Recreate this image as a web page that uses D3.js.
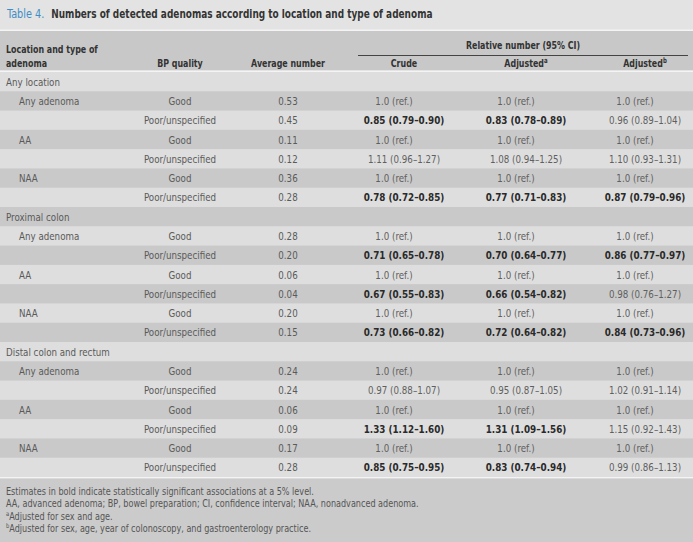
<!DOCTYPE html>
<html><head><meta charset="utf-8">
<script src="https://cdn.jsdelivr.net/npm/d3@7"></script>
<style>
html,body{margin:0;padding:0;background:#e4e4e4;}
svg{display:block;}
text{font-family:"DejaVu Sans Condensed","DejaVu Sans",sans-serif;}
</style></head>
<body>
<svg id="c" width="693" height="542"></svg>
<script>
const titleLabel = "Table 4.";
const titleText = "Numbers of detected adenomas according to location and type of adenoma";
const headerSpan = "Relative number (95% CI)";
const headerCols = [
  {key:"loc", lines:["Location and type of","adenoma"]},
  {key:"bp", lines:["BP quality"]},
  {key:"avg", lines:["Average number"]},
  {key:"crude", lines:["Crude"]},
  {key:"adjA", lines:["Adjusted"], sup:"a"},
  {key:"adjB", lines:["Adjusted"], sup:"b"}
];
const groups = ["Any location","Proximal colon","Distal colon and rectum"];
const types = ["Any adenoma","AA","NAA"];
const qualities = ["Good","Poor/unspecified"];
const refLabel = "1.0 (ref.)";
// average numbers: per group, per type, [Good, Poor]
const avgNumber = [
  [["0.53","0.45"],["0.11","0.12"],["0.36","0.28"]],
  [["0.28","0.20"],["0.06","0.04"],["0.20","0.15"]],
  [["0.24","0.24"],["0.06","0.09"],["0.17","0.28"]]
];
// relative numbers for poor/unspecified rows
const crude = [
  ["0.85 (0.79–0.90)","1.11 (0.96–1.27)","0.78 (0.72–0.85)"],
  ["0.71 (0.65–0.78)","0.67 (0.55–0.83)","0.73 (0.66–0.82)"],
  ["0.97 (0.88–1.07)","1.33 (1.12–1.60)","0.85 (0.75–0.95)"]
];
const adjA = [
  ["0.83 (0.78–0.89)","1.08 (0.94–1.25)","0.77 (0.71–0.83)"],
  ["0.70 (0.64–0.77)","0.66 (0.54–0.82)","0.72 (0.64–0.82)"],
  ["0.95 (0.87–1.05)","1.31 (1.09–1.56)","0.83 (0.74–0.94)"]
];
const adjB = [
  ["0.96 (0.89–1.04)","1.10 (0.93–1.31)","0.87 (0.79–0.96)"],
  ["0.86 (0.77–0.97)","0.98 (0.76–1.27)","0.84 (0.73–0.96)"],
  ["1.02 (0.91–1.14)","1.15 (0.92–1.43)","0.99 (0.86–1.13)"]
];
// significance (bold) flags
const crudeSig = [[true,false,true],[true,true,true],[false,true,true]];
const adjASig  = [[true,false,true],[true,true,true],[false,true,true]];
const adjBSig  = [[false,false,true],[true,false,true],[false,false,false]];
const footnotes = [
  {sup:"", text:"Estimates in bold indicate statistically significant associations at a 5% level."},
  {sup:"", text:"AA, advanced adenoma; BP, bowel preparation; CI, confidence interval; NAA, nonadvanced adenoma."},
  {sup:"a", text:"Adjusted for sex and age."},
  {sup:"b", text:"Adjusted for sex, age, year of colonoscopy, and gastroenterology practice."}
];

// build rows
const rows = [];
groups.forEach((g,gi)=>{
  rows.push({section:g});
  types.forEach((t,ti)=>{
    rows.push({label:t, bp:qualities[0], avg:avgNumber[gi][ti][0],
      crude:{t:refLabel,ref:true}, adjA:{t:refLabel,ref:true}, adjB:{t:refLabel,ref:true}});
    rows.push({label:"", bp:qualities[1], avg:avgNumber[gi][ti][1],
      crude:{t:crude[gi][ti],b:crudeSig[gi][ti]},
      adjA:{t:adjA[gi][ti],b:adjASig[gi][ti]},
      adjB:{t:adjB[gi][ti],b:adjBSig[gi][ti]}});
  });
});

const W = 693, H = 542;
const SX_REG = 0.88, SX_BOLD = 0.89, SX_HDR = 0.8, SX_TITLE = 0.865;
const svg = d3.select("#c");
const y = d3.scaleBand().domain(d3.range(rows.length)).range([72, 477]).padding(0);
const colX = d3.scaleOrdinal().domain(["bp","avg","crude","adjA","adjB"]).range([180,288,404,526,645]);
const refShift = -10;

// place a text element at (x,y) with horizontal condensation sx
function place(sel, x, yy, sx){
  return sel.attr("transform", function(d,i){
    const xx = typeof x === "function" ? x.call(this,d,i) : x;
    return `translate(${xx},${yy}) scale(${sx},1)`;
  });
}

// backgrounds
svg.append("rect").attr("x",0).attr("y",0).attr("width",W).attr("height",H).attr("fill","#e3e3e3");
svg.append("rect").attr("x",0).attr("y",31).attr("width",W).attr("height",39.5).attr("fill","#c8c8c8");
svg.append("rect").attr("x",0).attr("y",29.5).attr("width",W).attr("height",1.5).attr("fill","#f4f4f4");
svg.append("rect").attr("x",0).attr("y",70.5).attr("width",W).attr("height",1.5).attr("fill","#f4f4f4");

svg.selectAll("rect.row").data(rows).join("rect").attr("class","row")
  .attr("x",0).attr("y",(d,i)=>y(i)).attr("width",W).attr("height",y.bandwidth()+0.5)
  .attr("fill",(d,i)=> i%2===0 ? "#dedede" : "#c9c9c9");

svg.append("rect").attr("x",0).attr("y",477).attr("width",W).attr("height",1.5).attr("fill","#f4f4f4");
svg.append("rect").attr("x",0).attr("y",478.5).attr("width",W).attr("height",H-478.5).attr("fill","#cbcbcb");

// title
const tt = place(svg.append("text"), 7, 18, SX_TITLE).attr("font-size",11.5);
tt.append("tspan").attr("fill","#3f8dc6").attr("font-size",12.5).text(titleLabel);
tt.append("tspan").attr("fill","#333").attr("font-weight","bold").attr("dx",8).text(titleText);

// header
const hdr = svg.append("g").attr("font-size",11).attr("font-weight","bold").attr("fill","#333");
place(hdr.append("text"), 6, 52.5, SX_HDR).text(headerCols[0].lines[0]);
place(hdr.append("text"), 6, 66.5, SX_HDR).text(headerCols[0].lines[1]);
headerCols.slice(1).forEach(c=>{
  const t = place(hdr.append("text"), colX(c.key), 66.5, SX_HDR).attr("text-anchor","middle");
  t.append("tspan").text(c.lines[0]);
  if(c.sup) t.append("tspan").attr("font-size",7.5).attr("dy",-4).text(c.sup);
});
place(hdr.append("text"), (358+688)/2, 49, SX_HDR).attr("text-anchor","middle").text(headerSpan);
svg.append("line").attr("x1",358).attr("x2",688).attr("y1",55.5).attr("y2",55.5).attr("stroke","#444").attr("stroke-width",1);

// body
const body = svg.append("g").attr("font-size",11);
const rg = body.selectAll("g.r").data(rows).join("g").attr("class","r")
  .attr("transform",(d,i)=>`translate(0,${y(i)+y.bandwidth()/2+4})`);
place(rg.filter(d=>d.section).append("text"), 6, 0, SX_REG).attr("fill","#5a5a5a").text(d=>d.section);
const dr = rg.filter(d=>!d.section);
place(dr.append("text"), 19, 0, SX_REG).attr("fill","#5a5a5a").text(d=>d.label);
place(dr.append("text"), colX("bp"), 0, SX_REG).attr("text-anchor","middle").attr("fill","#5a5a5a").text(d=>d.bp);
place(dr.append("text"), colX("avg"), 0, SX_REG).attr("text-anchor","middle").attr("fill","#5a5a5a").text(d=>d.avg);
["crude","adjA","adjB"].forEach(k=>{
  dr.append("text")
    .attr("transform", d=>`translate(${colX(k)+(d[k].ref?refShift:0)},0) scale(${d[k].b?SX_BOLD:SX_REG},1)`)
    .attr("text-anchor","middle")
    .attr("font-weight",d=>d[k].b?"bold":"normal")
    .attr("fill",d=>d[k].b?"#2a2a2a":"#5f5f5f")
    .text(d=>d[k].t);
});

// footnotes
const fn = svg.append("g").attr("font-size",10).attr("fill","#555");
fn.selectAll("text").data(footnotes).join("text")
  .attr("transform",(d,i)=>`translate(6,${495+i*12.3}) scale(0.9,1)`)
  .each(function(d){
    const t = d3.select(this);
    if(d.sup) t.append("tspan").attr("font-size",6.5).attr("dy",-3.5).text(d.sup);
    t.append("tspan").attr("dy",d.sup?3.5:0).text(d.text);
  });
</script>
</body></html>
